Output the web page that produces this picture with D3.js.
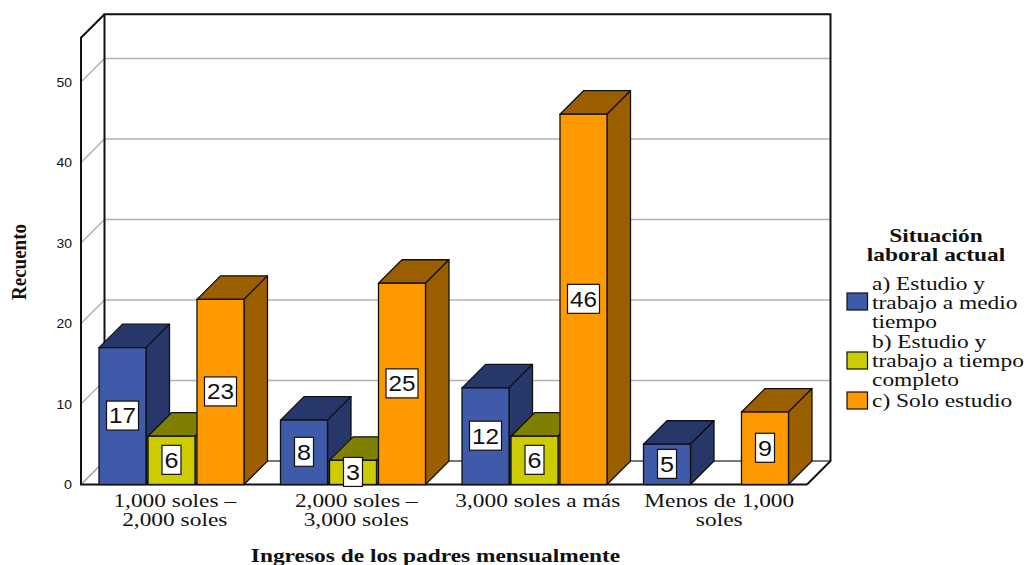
<!DOCTYPE html>
<html><head><meta charset="utf-8">
<script src="https://d3js.org/d3.v7.min.js"></script>
<style>html,body{margin:0;padding:0;background:#fff}svg{display:block}
.serif{font-family:"Liberation Serif",serif;fill:#111}
.sans{font-family:"Liberation Sans",sans-serif;fill:#111}</style>
</head><body><svg id="c" width="1027" height="565"></svg>
<script>
const categories=[["1,000 soles –","2,000 soles"],["2,000 soles –","3,000 soles"],["3,000 soles a más"],["Menos de 1,000","soles"]];
const seriesNames=["a","b","c"];
const seriesA=[17,8,12,5];
const seriesB=[6,3,6,null];
const seriesC=[23,25,46,9];
const yTicks=[0,10,20,30,40,50];
const legendTitle=["Situación","laboral actual"];
const legendLabels=[["a) Estudio y","trabajo a medio","tiempo"],["b) Estudio y","trabajo a tiempo","completo"],["c) Solo estudio"]];
const frontColors=["#3E5AA8","#CCCC00","#FF9900"];
const darkColors=["#27376A","#808000","#9C5F00"];

const svg=d3.select("#c");
const D=23.5, left=81, right=807, y0=484.5;
const y=d3.scaleLinear().domain([0,50]).range([y0,82]);
const yMax=55.5;
const x=d3.scaleBand().domain(d3.range(categories.length)).range([left,right]);
const pad=18;
const inner=d3.scaleBand().domain(seriesNames).range([pad,pad+147]);
const barW=47;
const allSeries=[seriesA,seriesB,seriesC];

// horizontally stretched serif text, as in the reference
const HS=1.3;
function st(px,py,str,size,bold,anchor){
 return svg.append("text").attr("class","serif").attr("text-anchor",anchor||"middle")
  .attr("transform",`translate(${px},${py}) scale(${HS},1)`)
  .style("font-size",size+"px").style("font-weight",bold?"bold":"normal").text(str);
}

// walls and grid
svg.selectAll(".g").data(yTicks.slice(1)).join("path").attr("fill","none").attr("stroke","#b4b4b4").attr("stroke-width",1.6)
 .attr("d",t=>`M${left},${y(t)}L${left+D},${y(t)-D}L${right+D},${y(t)-D}`);
svg.append("path").attr("fill","none").attr("stroke","#a0a0a0").attr("stroke-width",1.6)
 .attr("d",`M${left},${y0}L${left+D},${y0-D}`);
svg.append("path").attr("fill","none").attr("stroke","#777").attr("stroke-width",2.2)
 .attr("d",`M${left+D},${y0-D}L${right+D},${y0-D}`);
svg.append("path").attr("fill","none").attr("stroke","#111").attr("stroke-width",2)
 .attr("d",`M${left+D},${y0-D}L${left+D},${y(yMax)-D}L${right+D},${y(yMax)-D}L${right+D},${y0-D}L${right},${y0}`);
svg.append("path").attr("fill","none").attr("stroke","#111").attr("stroke-width",2)
 .attr("d",`M${right},${y0}L${left},${y0}L${left},${y(yMax)}L${left+D},${y(yMax)-D}`);

// bars
const bars=[];
categories.forEach((c,i)=>seriesNames.forEach((s,j)=>{const v=allSeries[j][i];if(v!=null)bars.push({i,j,s,v});}));
const bx=d=>x(d.i)+inner(d.s);
const g=svg.selectAll(".bar").data(bars).join("g");
g.append("path").attr("stroke","#111").attr("stroke-width",1.3).attr("stroke-linejoin","round").attr("fill",d=>darkColors[d.j])
 .attr("d",d=>{const a=bx(d),b=a+barW,t=y(d.v);return `M${a},${t}L${a+D},${t-D}L${b+D},${t-D}L${b},${t}Z`;});
g.append("path").attr("stroke","#111").attr("stroke-width",1.3).attr("stroke-linejoin","round").attr("fill",d=>darkColors[d.j])
 .attr("d",d=>{const b=bx(d)+barW,t=y(d.v);return `M${b},${t}L${b+D},${t-D}L${b+D},${y0-D}L${b},${y0}Z`;});
g.append("rect").attr("stroke","#111").attr("stroke-width",1.3).attr("fill",d=>frontColors[d.j])
 .attr("x",bx).attr("y",d=>y(d.v)).attr("width",barW).attr("height",d=>y0-y(d.v));

// value labels
const lab=svg.selectAll(".lab").data(bars).join("g")
 .attr("transform",d=>`translate(${bx(d)+barW/2},${(y(d.v)+y0)/2-0.5})`);
lab.append("rect").attr("fill","#fff").attr("stroke","#111").attr("stroke-width",1.2)
 .attr("x",d=>d.v>=10?-16:-9.5).attr("width",d=>d.v>=10?32:19).attr("y",-14.5).attr("height",29);
lab.append("text").attr("class","sans").attr("text-anchor","middle").attr("dy","0.36em").style("font-size","22px").attr("textLength",d=>d.v>=10?27:14).attr("lengthAdjust","spacingAndGlyphs").text(d=>d.v);

// y ticks
svg.selectAll(".yt").data(yTicks).join("text").attr("class","sans").attr("text-anchor","end")
 .attr("x",72).attr("y",t=>y(t)).attr("dy","0.36em").style("font-size","13.5px").attr("textLength",t=>t?15.5:8).attr("lengthAdjust","spacingAndGlyphs").text(t=>t);

// category labels
categories.forEach((c,i)=>{
 c.forEach((line,k)=>st(x(i)+x.bandwidth()/2+3,506.75+k*19,line,18));
});

// axis titles
st(435.5,562,"Ingresos de los padres mensualmente",18,true);
svg.append("text").attr("class","serif").attr("text-anchor","middle").attr("transform","translate(26,262) rotate(-90) scale(1,1.15)")
 .style("font-size","19px").style("font-weight","bold").text("Recuento");

// legend
legendTitle.forEach((t,k)=>st(936,242+k*19,t,18,true));
const swatchY=[293,352,392];
const textY=[290,348,406.5];
legendLabels.forEach((lines,j)=>{
 svg.append("rect").attr("x",847).attr("y",swatchY[j]).attr("width",20.5).attr("height",17).attr("fill",frontColors[j]).attr("stroke","#111").attr("stroke-width",1.2);
 lines.forEach((l,k)=>st(872,textY[j]+k*19,l,18,false,"start"));
});
</script></body></html>
